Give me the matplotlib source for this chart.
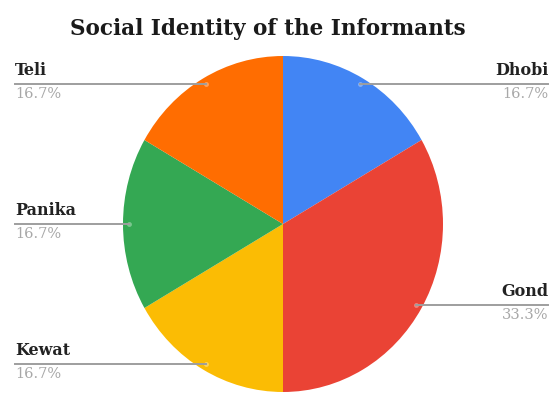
import numpy as np
from matplotlib import pyplot as plt

# informants per caste group
groups = ["Dhobi", "Gond", "Kewat", "Panika", "Teli"]
counts = [1, 2, 1, 1, 1]
colors = ["#4285F4", "#EA4335", "#FBBC04", "#34A853", "#FF6D01"]

W, H = 550, 396
fig = plt.figure(figsize=(W / 100, H / 100), dpi=100)
ax = fig.add_axes([123 / W, 4 / H, 320 / W, 336 / H])

ax.pie(counts, colors=colors, startangle=90, counterclock=False,
       wedgeprops=dict(linewidth=0))
ax.set_aspect("auto")
ax.set_xlim(-1, 1)
ax.set_ylim(-1, 1)

fig.text(268 / W, 1 - 35 / H, "Social Identity of the Informants",
         ha="center", va="baseline", fontsize=15.5, fontweight="bold",
         family="DejaVu Serif", color="#1a1a1a")

total = sum(counts)
shares = np.array(counts) / total
ends = np.cumsum(shares)
starts = ends - shares
to_fig = fig.transFigure.inverted()

for name, share, s, e in zip(groups, shares, starts, ends):
    mid = (s + e) / 2 * 2 * np.pi           # clockwise from 12 o'clock
    dx, dy = 0.96 * np.sin(mid), 0.96 * np.cos(mid)
    px, py = ax.transData.transform((dx, dy))
    fx, fy = to_fig.transform((px, py))
    left = dx < 0
    x_edge = 15 / W if left else 548 / W
    fig.add_artist(plt.Line2D([x_edge, fx], [fy, fy], transform=fig.transFigure,
                              color="#9e9e9e", linewidth=1.4))
    ax.plot(dx, dy, "o", ms=3.5, color="white", alpha=0.35, mec="none")
    ha = "left" if left else "right"
    fig.text(x_edge, fy + 5 / H, name, ha=ha, va="bottom", fontsize=11.5,
             fontweight="bold", family="DejaVu Serif", color="#222222")
    fig.text(x_edge, fy - 3 / H, f"{share * 100:.1f}%", ha=ha, va="top",
             fontsize=10.5, family="DejaVu Serif", color="#a8a8a8")

fig.savefig("out.png", dpi=100)
